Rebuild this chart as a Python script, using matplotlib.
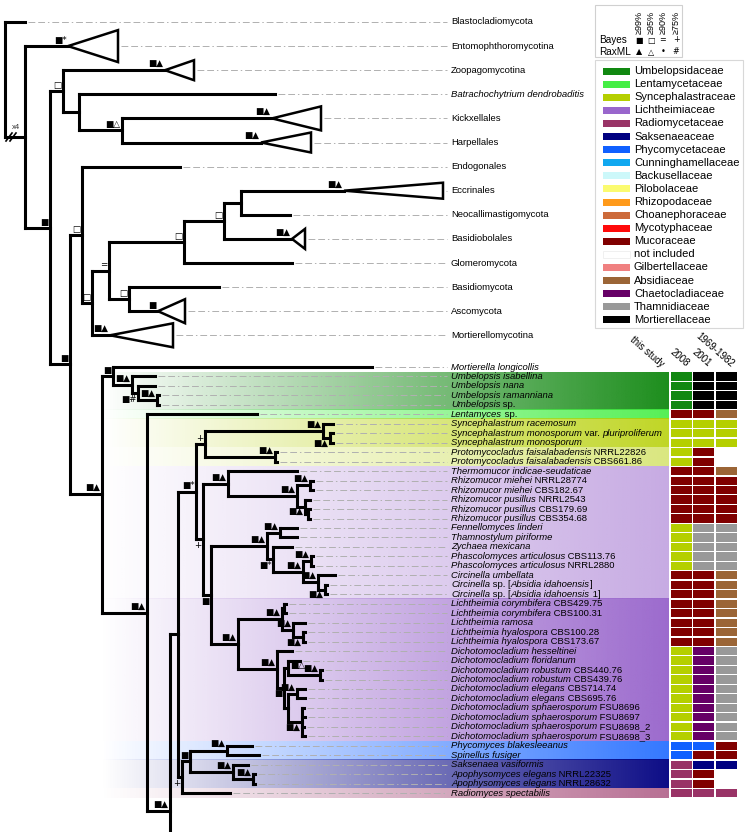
import matplotlib.pyplot as plt
from matplotlib.patches import Polygon, Rectangle
from matplotlib.colors import to_rgb
import numpy as np

plt.rcParams['font.family'] = ['Liberation Sans', 'DejaVu Sans']

# ---------------- data ----------------
families = ["Umbelopsidaceae", "Lentamycetaceae", "Syncephalastraceae", "Lichtheimiaceae",
            "Radiomycetaceae", "Saksenaeaceae", "Phycomycetaceae", "Cunninghamellaceae",
            "Backusellaceae", "Pilobolaceae", "Rhizopodaceae", "Choanephoraceae",
            "Mycotyphaceae", "Mucoraceae", "not included", "Gilbertellaceae",
            "Absidiaceae", "Chaetocladiaceae", "Thamnidiaceae", "Mortierellaceae"]
family_colors = ["#118811", "#44ee44", "#b5cf00", "#9966cc", "#993366", "#000080",
                 "#1060ff", "#10a8f0", "#ccf8fa", "#fbfb70", "#ff9a1a", "#cc6a3a",
                 "#ff0a0a", "#800000", "#ffffff", "#f08080", "#9b6536", "#660066",
                 "#999999", "#000000"]
fam = {f[:3]: c for f, c in zip(families, family_colors)}

upper_taxa = ["Blastocladiomycota", "Entomophthoromycotina", "Zoopagomycotina",
              "*Batrachochytrium dendrobaditis*", "Kickxellales", "Harpellales",
              "Endogonales", "Eccrinales", "Neocallimastigomycota", "Basidiobolales",
              "Glomeromycota", "Basidiomycota", "Ascomycota", "Mortierellomycotina"]

lower_taxa = [
    "*Mortierella longicollis*",
    "*Umbelopsis isabellina*", "*Umbelopsis nana*", "*Umbelopsis ramanniana*", "*Umbelopsis* sp.",
    "*Lentamyces* sp.",
    "*Syncephalastrum racemosum*", "*Syncephalastrum monosporum* var. *pluriproliferum*",
    "*Syncephalastrum monosporum*",
    "*Protomycocladus faisalabadensis* NRRL22826", "*Protomycocladus faisalabadensis* CBS661.86",
    "*Thermomucor indicae-seudaticae*",
    "*Rhizomucor miehei* NRRL28774", "*Rhizomucor miehei* CBS182.67",
    "*Rhizomucor pusillus* NRRL2543", "*Rhizomucor pusillus* CBS179.69",
    "*Rhizomucor pusillus* CBS354.68",
    "*Fennellomyces linderi*", "*Thamnostylum piriforme*", "*Zychaea mexicana*",
    "*Phascolomyces articulosus* CBS113.76", "*Phascolomyces articulosus* NRRL2880",
    "*Circinella umbellata*", "*Circinella* sp. [*Absidia idahoensis*]",
    "*Circinella* sp. [*Absidia idahoensis* 1]",
    "*Lichtheimia corymbifera* CBS429.75", "*Lichtheimia corymbifera* CBS100.31",
    "*Lichtheimia ramosa*", "*Lichtheimia hyalospora* CBS100.28",
    "*Lichtheimia hyalospora* CBS173.67",
    "*Dichotomocladium hesseltinei*", "*Dichotomocladium floridanum*",
    "*Dichotomocladium robustum* CBS440.76", "*Dichotomocladium robustum* CBS439.76",
    "*Dichotomocladium elegans* CBS714.74", "*Dichotomocladium elegans* CBS695.76",
    "*Dichotomocladium sphaerosporum* FSU8696", "*Dichotomocladium sphaerosporum* FSU8697",
    "*Dichotomocladium sphaerosporum* FSU8698_2", "*Dichotomocladium sphaerosporum* FSU8698_3",
    "*Phycomyces blakesleeanus*", "*Spinellus fusiger*", "*Saksenaea vasiformis*",
    "*Apophysomyces elegans* NRRL22325", "*Apophysomyces elegans* NRRL28632",
    "*Radiomyces spectabilis*"]

# family assigned in earlier classifications (one entry per lower taxon)
col_2008 = ([""] + ["Umb"] * 4 + ["Muc"] + ["Syn"] * 5 + ["Muc"] * 6 + ["Syn"] * 5 +
            ["Muc"] * 8 + ["Syn"] * 10 + ["Phy"] * 2 + ["Rad"] * 4)
col_2001 = ([""] + ["Mor"] * 4 + ["Muc"] + ["Syn"] * 3 + ["Muc"] * 8 + ["Tha"] * 5 +
            ["Muc"] * 8 + ["Cha"] * 10 + ["Phy", "Muc", "Sak", "Muc", "Muc", "Rad"])
col_1969 = ([""] + ["Mor"] * 4 + ["Abs"] + ["Syn"] * 3 + [""] * 2 + ["Abs"] + ["Muc"] * 5 +
            ["Tha"] * 5 + ["Abs"] * 8 + ["Tha"] * 10 + ["Muc", "Muc", "Sak", "", "", "Rad"])
columns = [("2008", col_2008), ("2001", col_2001), ("1969-1982", col_1969)]

# background bands of this study: (number of rows, family, strength)
bands = [(4, "Umb", 0.95), (1, "Len", 0.9), (3, "Syn", 0.85), (2, "Syn", 0.5),
         (14, "Lic", 0.55), (15, "Lic", 0.97), (2, "Phy", 0.85), (3, "Sak", 0.95),
         (1, "Rad", 0.7)]

# collapsed clades: (depth, half height)
collapsed = {"Entomophthoromycotina": (50, 16), "Zoopagomycotina": (29, 10),
             "Kickxellales": (49, 12), "Harpellales": (50, 10), "Eccrinales": (99, 8),
             "Basidiobolales": (13, 10), "Ascomycota": (27, 12),
             "Mortierellomycotina": (63, 12)}


def leaf(length, support=""):
    return {"len": length, "sup": support, "kids": []}


def node(length, support, *kids):
    return {"len": length, "sup": support, "kids": list(kids)}


# leaves take the taxa in order (upper_taxa, then lower_taxa, then a cropped branch)
# support prefix: ">" written right of the node, "_" written under the branch
early = node(13, "□",
             leaf(102, "■▲"),
             node(16, "", leaf(196),
                  node(43, "■△", leaf(150, "■▲"), leaf(139, "■▲"))))

zygo = node(12, "□",
            leaf(98),
            node(10, "□",
                 node(17, "=",
                      node(75, "□",
                           node(40, "□",
                                node(17, "", leaf(103, "■▲"), leaf(49)),
                                leaf(68, "■▲")),
                           leaf(108)),
                      node(20, "□", leaf(90), leaf(29, "■"))),
                 leaf(18, "■▲")))

umbel = node(11, "■", leaf(259),
             node(19, "■▲", leaf(23),
                  node(6, "_■#", leaf(17),
                       node(19, "■▲", leaf(2), leaf(2)))))

sync = node(9, "+",
            node(118, "■▲", leaf(10), node(7, "_■▲", leaf(3), leaf(3))),
            node(70, "■▲", leaf(2), leaf(2)))

rhizo = node(25, "■▲", leaf(69),
             node(69, "■▲",
                  node(13, "■▲", leaf(3), leaf(3)),
                  node(8, "_■▲", leaf(5), node(3, "", leaf(2), leaf(2)))))

circ = node(56, "■▲",
            node(13, "■▲", leaf(17), leaf(17)),
            node(6, "_■*", leaf(19),
                 node(30, "■▲",
                      node(8, "■▲", leaf(2), leaf(2)),
                      node(15, "■▲", leaf(17), node(7, "_■▲", leaf(2), leaf(2))))))

licht = node(44, "■▲",
             node(2, "", leaf(2), leaf(2)),
             node(11, "■▲", leaf(12), node(10, "_■▲", leaf(2), leaf(2))))

dicho = node(39, "■▲", leaf(15),
             node(7, "_■",
                  node(4, ">■△", leaf(12), node(32, "■▲", leaf(2), leaf(2))),
                  node(4, "",
                       node(9, "■▲", leaf(8), leaf(8)),
                       node(14, "_■▲", leaf(2), leaf(3), leaf(2), leaf(3)))))

core = node(18, "■*", sync,
            node(7, "_+", rhizo,
                 node(8, "_■", circ, node(27, "■▲", licht, dicho))))

basal = node(4, "_+",
             node(8, "■",
                  node(37, "■▲", leaf(25), leaf(32)),
                  node(43, "■▲", leaf(15), node(20, "■▲", leaf(2), leaf(2)))),
             leaf(48))

mucor = node(45, "■▲", leaf(110),
             node(23, "■▲", node(8, "", core, basal), leaf(0)))

tree = node(0, "", leaf(20),
            node(20, "", leaf(43, "■*"),
                 node(25, "■", early,
                      node(20, "■", zygo, node(32, "■▲", umbel, mucor)))))

taxa = upper_taxa + lower_taxa + [None]

# ---------------- layout ----------------
up_y0, up_dy = 22, 24.1
lo_y0, lo_dy = 367, 9.47
lower_y = [lo_y0 + lo_dy * i for i in range(len(lower_taxa))]
leaves = []


def place(nd, x0):
    nd["x"] = x0 + nd["len"]
    if not nd["kids"]:
        i = len(leaves)
        nd["name"] = taxa[i]
        if i < len(upper_taxa):
            nd["y"] = up_y0 + up_dy * i
        elif nd["name"] is not None:
            nd["y"] = lower_y[i - len(upper_taxa)]
        else:
            nd["y"] = lo_y0 + lo_dy * 65.5
        leaves.append(nd)
    else:
        for k in nd["kids"]:
            place(k, nd["x"])
        nd["y"] = (nd["kids"][0]["y"] + nd["kids"][-1]["y"]) / 2


place(tree, 5)

fig = plt.figure(figsize=(7.48, 8.32), dpi=100)
ax = fig.add_axes([0, 0, 1, 1])
renderer = fig.canvas.get_renderer()

# coloured gradient bands
r = 1
for n, key, a in bands:
    top = lower_y[r] - lo_dy / 2
    bot = lower_y[r + n - 1] + lo_dy / 2
    img = np.zeros((1, 256, 4))
    img[..., :3] = to_rgb(fam[key])
    img[..., 3] = np.linspace(0, a, 256)
    ax.imshow(img, extent=(100, 669, bot, top), aspect='auto',
              interpolation='bilinear', zorder=0)
    r += n

lw = 2.2
kw = dict(color='black', lw=lw, solid_capstyle='projecting', zorder=3)
sup_kw = dict(fontsize=6.3, family='DejaVu Sans', zorder=4)


def draw(nd, px):
    if px is not None:
        ax.plot([px, nd["x"]], [nd["y"], nd["y"]], **kw)
    if nd["kids"]:
        ax.plot([nd["x"], nd["x"]], [nd["kids"][0]["y"], nd["kids"][-1]["y"]], **kw)
        for k in nd["kids"]:
            draw(k, nd["x"])
    s = nd["sup"]
    if s.startswith(">"):
        ax.text(nd["x"] + 2, nd["y"] - 2.5, s[1:], ha='left', va='center', **sup_kw)
    elif s.startswith("_"):
        ax.text(nd["x"] - 1.5, nd["y"] + 1.5, s[1:], ha='right', va='top', **sup_kw)
    elif s:
        ax.text(nd["x"] - 1.5, nd["y"] - 1.2, s, ha='right', va='bottom', **sup_kw)


draw(tree, None)


def label(x, y, s, size):
    for i, part in enumerate(s.split('*')):
        if not part:
            continue
        t = ax.text(x, y, part, fontsize=size, va='center', ha='left',
                    style='italic' if i % 2 else 'normal', zorder=5)
        x += t.get_window_extent(renderer).width


for lf in leaves:
    if lf["name"] is None:
        continue
    end = lf["x"]
    if lf["name"] in collapsed:
        w, h = collapsed[lf["name"]]
        ax.add_patch(Polygon([(end, lf["y"]), (end + w, lf["y"] - h), (end + w, lf["y"] + h)],
                             closed=True, fc='white', ec='black', lw=1.8, zorder=3))
        end += w
    ax.plot([end + 3, 447], [lf["y"], lf["y"]], color='#b0b0b0', lw=0.7,
            dashes=(7, 3, 7, 3, 1.5, 3), zorder=1)
    label(451, lf["y"], lf["name"], 6.8)

# root break mark
bx, by = 11, tree["kids"][1]["y"]
for dx in (-2, 2):
    ax.plot([bx + dx - 3, bx + dx + 3], [by + 4, by - 4], color='black', lw=1.2, zorder=4)
ax.text(bx + 5, by - 6, "x4", fontsize=5.5, ha='center', va='bottom', color='#333333')

# classification cells
col_x = [671, 693, 716]
for (title, col), cx in zip(columns, col_x):
    for y, key in zip(lower_y, col):
        if key:
            ax.add_patch(Rectangle((cx, y - 4.1), 21, 8.2, fc=fam[key], ec='none', zorder=2))
    ax.text(cx + 13, 369, title, rotation=-41, rotation_mode='anchor', ha='right',
            va='bottom', fontsize=7)
ax.text(659, 369, "this study", rotation=-41, rotation_mode='anchor', ha='right',
        va='bottom', fontsize=7)

# support legend
ax.add_patch(Rectangle((595, 5), 87, 52, fill=False, ec='#d0d0d0', lw=0.8))
sx = [639, 651, 663, 676]
for xx, s, b, m in zip(sx, ["≥99%", "≥95%", "≥90%", "≥75%"], ["■", "□", "=", "+"],
                       ["▲", "△", "•", "#"]):
    ax.text(xx, 34, s, rotation=90, ha='center', va='bottom', fontsize=6.5)
    ax.text(xx, 40, b, ha='center', va='center', fontsize=5.8, family='DejaVu Sans')
    ax.text(xx, 52, m, ha='center', va='center', fontsize=5.8, family='DejaVu Sans')
ax.text(599, 40, "Bayes", va='center', fontsize=7.2)
ax.text(599, 52, "RaxML", va='center', fontsize=7.2)

# family legend
ax.add_patch(Rectangle((595, 60), 148, 268, fill=False, ec='#d8d8d8', lw=0.8))
for i, (f, c) in enumerate(zip(families, family_colors)):
    y = 71 + 13.1 * i
    ax.add_patch(Rectangle((603, y - 3.5), 27, 7, fc=c,
                           ec='#eeeeee' if c == "#ffffff" else 'none', lw=0.6))
    ax.text(634, y, f, va='center', fontsize=8.05)

ax.set_xlim(0, 748)
ax.set_ylim(832, 0)
ax.axis('off')
fig.savefig('out.png', dpi=100)
